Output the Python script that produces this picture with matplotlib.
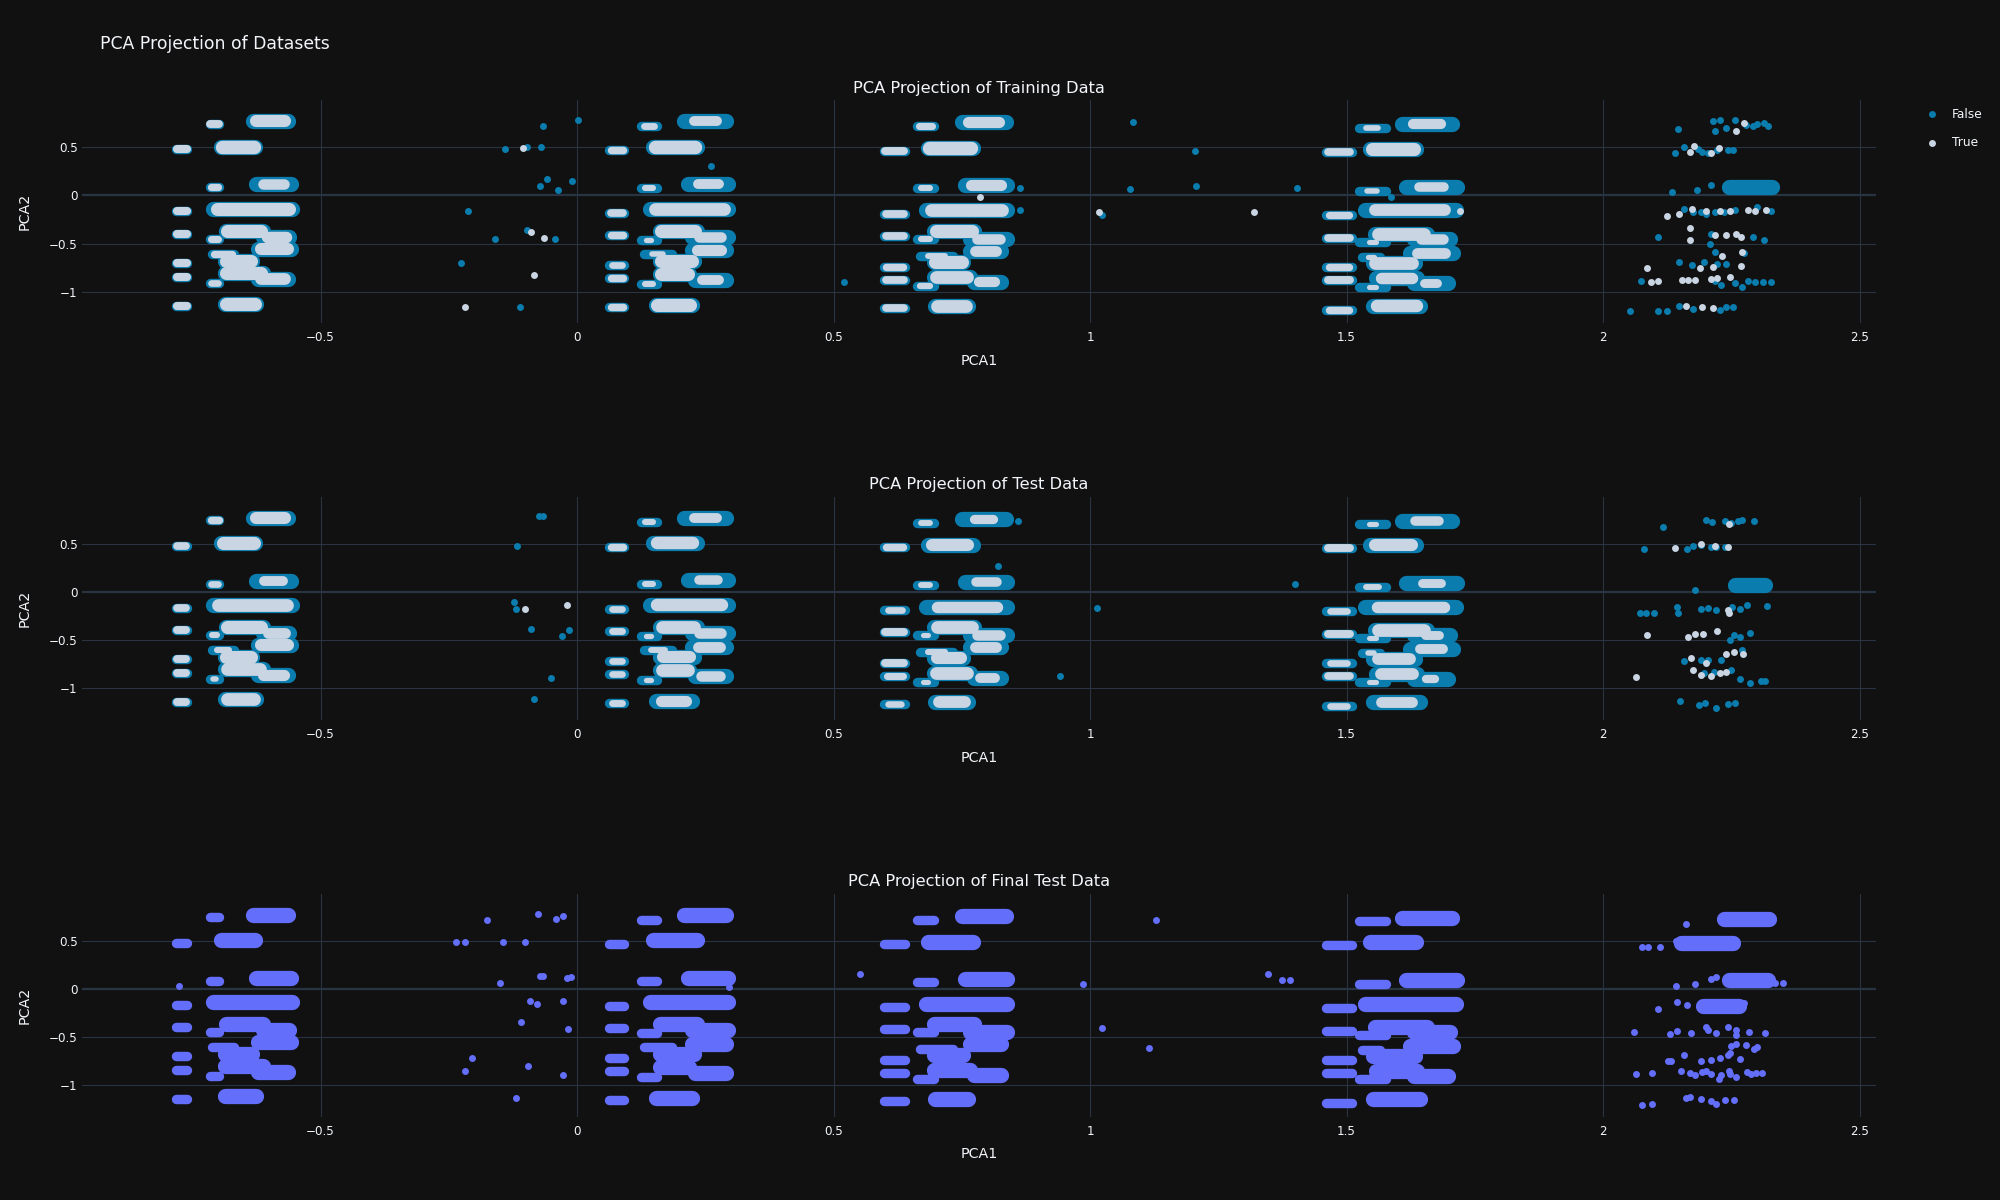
import matplotlib
matplotlib.use("Agg")
import matplotlib.pyplot as plt
from matplotlib.lines import Line2D

# ---------------------------------------------------------------- data
X_TICKS = [-0.5, 0, 0.5, 1, 1.5, 2, 2.5]
X_TICK_LABELS = ["\u22120.5", "0", "0.5", "1", "1.5", "2", "2.5"]
Y_TICKS = [-1, -0.5, 0, 0.5]
Y_TICK_LABELS = ["\u22121", "\u22120.5", "0", "0.5"]
PANEL_TITLES = ["PCA Projection of Training Data", "PCA Projection of Test Data",
                "PCA Projection of Final Test Data"]
LEGEND_LABELS = ["False", "True"]

# dense horizontal clusters (x_start, x_end, y) ; first 11 = narrow side columns
STRIPS_G1 = [(-0.781, -0.760, 0.480), (-0.781, -0.760, -0.163), (-0.781, -0.760, -0.400),
             (-0.781, -0.760, -0.700), (-0.781, -0.760, -0.843), (-0.781, -0.760, -1.145),
             (-0.716, -0.697, 0.742), (-0.716, -0.697, 0.085), (-0.716, -0.697, -0.445),
             (-0.716, -0.697, -0.900), (-0.712, -0.668, -0.600),
             (-0.632, -0.563, 0.768), (-0.694, -0.627, 0.505), (-0.625, -0.558, 0.115),
             (-0.709, -0.555, -0.135), (-0.685, -0.613, -0.362), (-0.612, -0.561, -0.430),
             (-0.622, -0.558, -0.556), (-0.687, -0.633, -0.672), (-0.687, -0.613, -0.805),
             (-0.622, -0.563, -0.865), (-0.687, -0.625, -1.115)]
STRIPS_G2 = [(0.063, 0.092, 0.470), (0.063, 0.092, -0.176), (0.063, 0.092, -0.405),
             (0.063, 0.092, -0.716), (0.063, 0.092, -0.850), (0.063, 0.092, -1.156),
             (0.125, 0.155, 0.720), (0.125, 0.155, 0.080), (0.125, 0.155, -0.456),
             (0.125, 0.155, -0.910), (0.130, 0.185, -0.600),
             (0.209, 0.291, 0.765), (0.149, 0.233, 0.505), (0.217, 0.295, 0.118),
             (0.143, 0.295, -0.135), (0.161, 0.233, -0.367), (0.224, 0.295, -0.430),
             (0.224, 0.291, -0.567), (0.161, 0.227, -0.680), (0.161, 0.219, -0.810),
             (0.230, 0.291, -0.870), (0.153, 0.224, -1.128)]
STRIPS_G3 = [(0.598, 0.640, 0.463), (0.598, 0.640, -0.187), (0.598, 0.640, -0.415),
             (0.598, 0.640, -0.740), (0.598, 0.640, -0.872), (0.598, 0.640, -1.166),
             (0.662, 0.696, 0.713), (0.662, 0.696, 0.073), (0.662, 0.696, -0.446),
             (0.662, 0.696, -0.930), (0.668, 0.733, -0.620),
             (0.750, 0.836, 0.754), (0.684, 0.771, 0.488), (0.756, 0.839, 0.104),
             (0.681, 0.839, -0.152), (0.696, 0.774, -0.367), (0.766, 0.839, -0.446),
             (0.766, 0.827, -0.574), (0.696, 0.753, -0.690), (0.696, 0.765, -0.837),
             (0.773, 0.827, -0.896), (0.698, 0.763, -1.140)]
STRIPS_G4 = [(1.460, 1.510, 0.453), (1.460, 1.510, -0.197), (1.460, 1.510, -0.436),
             (1.460, 1.510, -0.734), (1.460, 1.510, -0.872), (1.460, 1.510, -1.180),
             (1.524, 1.576, 0.700), (1.524, 1.576, 0.048), (1.524, 1.576, -0.480),
             (1.524, 1.576, -0.940), (1.530, 1.565, -0.630),
             (1.609, 1.705, 0.740), (1.546, 1.636, 0.484), (1.615, 1.716, 0.090),
             (1.535, 1.713, -0.152), (1.555, 1.657, -0.394), (1.631, 1.701, -0.446),
             (1.623, 1.707, -0.590), (1.551, 1.633, -0.695), (1.557, 1.638, -0.850),
             (1.631, 1.697, -0.907), (1.551, 1.644, -1.145)]

TRAIN_SHARE_G1 = [0.85, 0.85, 0.85, 0.85, 0.85, 0.85, 0.8, 0.65, 0.6, 0.5, 0.65,
                  0.7, 0.9, 0.45, 0.85, 0.85, 0.6, 0.7, 0.85, 0.85, 0.65, 0.85]
TRAIN_SHARE_G2 = [0.7, 0.75, 0.7, 0.5, 0.7, 0.7, 0.55, 0.35, 0.15, 0.35, 0.2,
                  0.35, 0.9, 0.35, 0.8, 0.85, 0.45, 0.55, 0.85, 0.85, 0.35, 0.85]
TRAIN_SHARE_G3 = [0.8, 0.75, 0.75, 0.7, 0.75, 0.75, 0.6, 0.35, 0.35, 0.4, 0.3,
                  0.55, 0.9, 0.55, 0.8, 0.85, 0.45, 0.5, 0.85, 0.8, 0.4, 0.8]
TRAIN_SHARE_G4 = [0.75, 0.65, 0.75, 0.7, 0.8, 0.7, 0.25, 0.2, 0.1, 0.1, 0.15,
                  0.4, 0.85, 0.3, 0.65, 0.8, 0.45, 0.5, 0.8, 0.6, 0.2, 0.75]
TEST_SHARE_G1 = [0.75, 0.75, 0.8, 0.8, 0.8, 0.8, 0.7, 0.5, 0.35, 0.2, 0.35,
                 0.7, 0.85, 0.35, 0.8, 0.85, 0.5, 0.7, 0.85, 0.8, 0.55, 0.8]
TEST_SHARE_G2 = [0.7, 0.5, 0.55, 0.5, 0.5, 0.55, 0.35, 0.35, 0.15, 0.15, 0.3,
                 0.35, 0.75, 0.3, 0.75, 0.8, 0.45, 0.5, 0.7, 0.8, 0.45, 0.55]
TEST_SHARE_G3 = [0.7, 0.5, 0.8, 0.8, 0.6, 0.45, 0.3, 0.3, 0.1, 0.1, 0.35,
                 0.25, 0.7, 0.3, 0.6, 0.8, 0.45, 0.5, 0.7, 0.8, 0.35, 0.65]
TEST_SHARE_G4 = [0.8, 0.5, 0.8, 0.5, 0.75, 0.5, 0.1, 0.3, 0.1, 0.1, 0.2,
                 0.3, 0.7, 0.2, 0.6, 0.8, 0.2, 0.35, 0.65, 0.65, 0.1, 0.5]

TRAIN_G5_STRIPS = [(2.245, 2.330, 0.085)]
TEST_G5_STRIPS = [(2.258, 2.315, 0.070)]
FINAL_G5_STRIPS = [(2.235, 2.324, 0.730), (2.152, 2.253, 0.478),
                   (2.246, 2.322, 0.090), (2.195, 2.264, -0.180)]

# isolated points
TRAIN_FALSE_X = [-0.066, 0.002, -0.14, -0.098, -0.07, -0.059, -0.073, -0.038, -0.009, -0.212,
                 -0.16, -0.097, -0.043, -0.227, -0.112, 0.262, 1.084, 1.204, 1.077, 1.206,
                 1.403, 0.863, 0.863, 0.52, 1.023, 1.587,
                 2.147, 2.214, 2.227, 2.218, 2.24, 2.257, 2.279, 2.314, 2.322, 2.292, 2.30,
                 2.14, 2.157, 2.192, 2.205, 2.222, 2.244, 2.253, 2.185,
                 2.135, 2.183, 2.211,
                 2.157, 2.175, 2.19, 2.218, 2.236, 2.257, 2.30, 2.327, 2.20,
                 2.107, 2.21, 2.292, 2.314, 2.208,
                 2.218, 2.275, 2.148, 2.174, 2.196, 2.222, 2.24,
                 2.074, 2.218, 2.257, 2.27, 2.283, 2.296, 2.312, 2.327, 2.23,
                 2.053, 2.107, 2.124, 2.148, 2.176, 2.227, 2.24, 2.253]
TRAIN_FALSE_Y = [0.72, 0.774, 0.48, 0.505, 0.505, 0.17, 0.093, 0.058, 0.145, -0.165,
                 -0.45, -0.354, -0.447, -0.70, -1.15, 0.30, 0.758, 0.457, 0.062, 0.10,
                 0.073, 0.08, -0.145, -0.896, -0.204, -0.014,
                 0.685, 0.765, 0.775, 0.67, 0.695, 0.78, 0.73, 0.747, 0.72, 0.72, 0.735,
                 0.436, 0.498, 0.453, 0.44, 0.464, 0.47, 0.47, 0.475,
                 0.035, 0.055, 0.104,
                 -0.135, -0.17, -0.175, -0.175, -0.175, -0.15, -0.118, -0.16, -0.195,
                 -0.43, -0.40, -0.43, -0.464, -0.50,
                 -0.585, -0.59, -0.69, -0.72, -0.69, -0.705, -0.706,
                 -0.886, -0.88, -0.90, -0.948, -0.88, -0.895, -0.895, -0.89, -0.92,
                 -1.197, -1.19, -1.195, -1.138, -1.173, -1.183, -1.156, -1.156]
TRAIN_TRUE_X = [-0.106, -0.09, -0.065, -0.083, -0.219, 0.786, 1.018, 1.32, 0.833, 1.722,
                2.275, 2.26, 2.17, 2.178, 2.21, 2.226,
                2.124, 2.148, 2.173, 2.20, 2.227, 2.248, 2.283, 2.296, 2.318,
                2.17, 2.17, 2.218, 2.24, 2.26, 2.268,
                2.231, 2.27, 2.189, 2.214, 2.268, 2.086,
                2.094, 2.107, 2.154, 2.165, 2.179, 2.21, 2.222, 2.247,
                2.161, 2.192, 2.214]
TRAIN_TRUE_Y = [0.49, -0.38, -0.444, -0.82, -1.15, -0.02, -0.173, -0.17, -0.163, -0.16,
                0.747, 0.67, 0.453, 0.512, 0.436, 0.488,
                -0.207, -0.187, -0.142, -0.163, -0.165, -0.16, -0.152, -0.165, -0.15,
                -0.332, -0.464, -0.41, -0.41, -0.394, -0.43,
                -0.62, -0.585, -0.747, -0.74, -0.733, -0.747,
                -0.896, -0.879, -0.868, -0.875, -0.875, -0.862, -0.855, -0.844,
                -1.138, -1.156, -1.163]

TEST_FALSE_X = [-0.066, -0.075, -0.117, -0.123, -0.119, -0.09, -0.016, -0.029, -0.05, -0.083,
                0.82, 0.942, 0.86, 1.013, 1.399,
                2.116, 2.213, 2.201, 2.238, 2.25, 2.263, 2.27, 2.295,
                2.08, 2.164, 2.175, 2.19, 2.21, 2.221, 2.238,
                2.179,
                2.072, 2.083, 2.099, 2.144, 2.146, 2.19, 2.204, 2.221, 2.252, 2.267, 2.28, 2.32,
                2.255, 2.267, 2.247, 2.287,
                2.27, 2.229, 2.158, 2.19, 2.204,
                2.196, 2.216, 2.25, 2.267, 2.287, 2.307, 2.316,
                2.149, 2.187, 2.198, 2.221, 2.244, 2.258]
TEST_FALSE_Y = [0.785, 0.785, 0.477, -0.104, -0.173, -0.38, -0.398, -0.46, -0.889, -1.114,
                0.273, -0.875, 0.737, -0.163, 0.08,
                0.675, 0.727, 0.745, 0.737, 0.71, 0.737, 0.75, 0.73,
                0.44, 0.446, 0.48, 0.49, 0.465, 0.47, 0.465,
                0.017,
                -0.224, -0.224, -0.224, -0.155, -0.215, -0.173, -0.165, -0.19, -0.155, -0.173, -0.138, -0.149,
                -0.45, -0.467, -0.50, -0.426,
                -0.60, -0.708, -0.72, -0.708, -0.705,
                -0.84, -0.83, -0.81, -0.907, -0.95, -0.92, -0.92,
                -1.13, -1.17, -1.15, -1.2, -1.16, -1.15]
TEST_TRUE_X = [-0.102, -0.02,
               2.246, 2.141, 2.19, 2.218, 2.244, 2.246, 2.244, 2.086, 2.166, 2.18, 2.194, 2.223,
               2.272, 2.24, 2.255, 2.172, 2.2, 2.064, 2.175, 2.19, 2.21, 2.227, 2.24]
TEST_TRUE_Y = [-0.176, -0.135,
               0.706, 0.457, 0.5, 0.48, 0.465, -0.215, -0.19, -0.45, -0.467, -0.44, -0.435, -0.405,
               -0.645, -0.645, -0.62, -0.69, -0.74, -0.88, -0.815, -0.86, -0.876, -0.84, -0.833]

FINAL_X = [-0.076, -0.042, -0.027, -0.175, -0.235, -0.219, -0.144, -0.102, -0.073, -0.067,
           -0.15, -0.02, -0.011, -0.092, -0.078, -0.027, -0.11, -0.017, -0.204, -0.219,
           -0.095, -0.027, -0.119, 0.551, -0.776, 0.297,
           0.986, 1.129, 1.024, 1.115, 1.346, 1.375, 1.39,
           2.162, 2.075, 2.088, 2.111, 2.143, 2.16, 2.335, 2.35, 2.21, 2.22, 2.18, 2.143,
           2.144, 2.107, 2.164, 2.275,
           2.061, 2.13, 2.144, 2.172, 2.20, 2.205, 2.221, 2.244, 2.26, 2.26, 2.284, 2.316,
           2.25, 2.26, 2.278, 2.295, 2.30, 2.244, 2.266, 2.158, 2.126, 2.133, 2.19, 2.21, 2.227, 2.248,
           2.064, 2.095, 2.152, 2.17, 2.18, 2.192, 2.2, 2.21, 2.23, 2.247, 2.26, 2.28, 2.288,
           2.298, 2.31, 2.225, 2.245,
           2.075, 2.095, 2.162, 2.17, 2.19, 2.21, 2.221, 2.238, 2.255]
FINAL_Y = [0.78, 0.73, 0.758, 0.713, 0.484, 0.484, 0.484, 0.484, 0.13, 0.135,
           0.066, 0.11, 0.125, -0.125, -0.16, -0.125, -0.343, -0.42, -0.713, -0.855,
           -0.80, -0.896, -1.13, 0.152, 0.028, 0.02,
           0.048, 0.713, -0.408, -0.616, 0.152, 0.09, 0.09,
           0.678, 0.43, 0.43, 0.44, 0.50, 0.45, 0.06, 0.06, 0.107, 0.12, 0.05, 0.028,
           -0.135, -0.21, -0.17, -0.145,
           -0.446, -0.47, -0.44, -0.46, -0.40, -0.43, -0.46, -0.40, -0.425, -0.48, -0.446, -0.46,
           -0.59, -0.57, -0.58, -0.62, -0.60, -0.69, -0.73, -0.69, -0.75, -0.75, -0.75, -0.74, -0.716, -0.67,
           -0.88, -0.87, -0.855, -0.87, -0.89, -0.86, -0.855, -0.88, -0.895, -0.88, -0.91, -0.86, -0.88,
           -0.875, -0.87, -0.93, -0.85,
           -1.2, -1.19, -1.13, -1.125, -1.14, -1.16, -1.19, -1.15, -1.15]

# ---------------------------------------------------------------- style
BG = "#111111"
GRID = "#283442"
TEXT = "#f2f5fa"
C_FALSE = "#0a7cad"
C_TRUE = "#c9d5e2"
C_FINAL = "#636efa"
LW_SIDE = 6.8
LW_MAIN = 11.0
MS = 5.0
W, H = 2000, 1200

plt.rcParams["font.family"] = ["DejaVu Sans"]
fig = plt.figure(figsize=(20, 12), dpi=100, facecolor=BG)

AX_LEFT, AX_RIGHT = 82, 1876
PANEL_TOPS = [100, 497, 893.5]
AX_H = 223
YLIMS = [(-1.316, 0.985), (-1.329, 0.984), (-1.324, 0.990)]
XLIM = (-0.965, 2.532)


def px_to_fig(x, y):
    return x / W, 1 - y / H


def make_axes(i):
    top = PANEL_TOPS[i]
    ax = fig.add_axes([AX_LEFT / W, 1 - (top + AX_H) / H, (AX_RIGHT - AX_LEFT) / W, AX_H / H])
    ax.set_facecolor(BG)
    ax.set_xlim(XLIM)
    ax.set_ylim(YLIMS[i])
    ax.set_xticks(X_TICKS)
    ax.set_xticklabels(X_TICK_LABELS)
    ax.set_yticks(Y_TICKS)
    ax.set_yticklabels(Y_TICK_LABELS)
    for s in ax.spines.values():
        s.set_visible(False)
    ax.tick_params(length=0, colors=TEXT, labelsize=8.6)
    ax.tick_params(axis="x", pad=6)
    ax.tick_params(axis="y", pad=3)
    for xv in X_TICKS:
        ax.axvline(xv, color=GRID, lw=0.8, zorder=0)
    for yv in Y_TICKS:
        ax.axhline(yv, color=GRID, lw=1.6 if yv == 0 else 0.8, zorder=0)
    fx, fy = px_to_fig((AX_LEFT + AX_RIGHT) / 2, top - 12)
    fig.text(fx, fy, PANEL_TITLES[i], color=TEXT, fontsize=11.7, ha="center", va="center")
    fx, fy = px_to_fig((AX_LEFT + AX_RIGHT) / 2, top + AX_H + 38)
    fig.text(fx, fy, "PCA1", color=TEXT, fontsize=10.3, ha="center", va="center")
    fx, fy = px_to_fig(25, top + AX_H / 2)
    fig.text(fx, fy, "PCA2", color=TEXT, fontsize=10.3, ha="center", va="center", rotation=90)
    return ax


def draw_strips(ax, strips, color, zorder, shares=None):
    for i, (x0, x1, y) in enumerate(strips):
        lw = LW_SIDE if (i < 11 and len(strips) == 22) else LW_MAIN
        if shares is None:
            ax.plot([x0, x1], [y, y], color=color, lw=lw, solid_capstyle="round", zorder=zorder)
        else:
            s = shares[i]
            c = (x0 + x1) / 2
            h = (x1 - x0) / 2 * s ** 0.6
            ax.plot([c - h, c + h], [y, y], color=color, lw=lw * (0.5 + 0.42 * s),
                    solid_capstyle="round", zorder=zorder)


def draw_points(ax, xs, ys, color, zorder):
    ax.plot(xs, ys, ls="none", marker="o", ms=MS, mfc=color, mec="none", zorder=zorder)


GROUPS = [STRIPS_G1, STRIPS_G2, STRIPS_G3, STRIPS_G4]
TRAIN_SHARES = [TRAIN_SHARE_G1, TRAIN_SHARE_G2, TRAIN_SHARE_G3, TRAIN_SHARE_G4]
TEST_SHARES = [TEST_SHARE_G1, TEST_SHARE_G2, TEST_SHARE_G3, TEST_SHARE_G4]

for i, (shares, g5, fx_, fy_, tx_, ty_) in enumerate([
        (TRAIN_SHARES, TRAIN_G5_STRIPS, TRAIN_FALSE_X, TRAIN_FALSE_Y, TRAIN_TRUE_X, TRAIN_TRUE_Y),
        (TEST_SHARES, TEST_G5_STRIPS, TEST_FALSE_X, TEST_FALSE_Y, TEST_TRUE_X, TEST_TRUE_Y)]):
    ax = make_axes(i)
    for strips in GROUPS:
        draw_strips(ax, strips, C_FALSE, 2)
    draw_strips(ax, g5, C_FALSE, 2)
    draw_points(ax, fx_, fy_, C_FALSE, 2)
    for strips, sh in zip(GROUPS, shares):
        draw_strips(ax, strips, C_TRUE, 3, shares=sh)
    draw_points(ax, tx_, ty_, C_TRUE, 3)

ax = make_axes(2)
for strips in GROUPS:
    draw_strips(ax, strips, C_FINAL, 2)
draw_strips(ax, FINAL_G5_STRIPS, C_FINAL, 2)
draw_points(ax, FINAL_X, FINAL_Y, C_FINAL, 2)

fx, fy = px_to_fig(100, 44)
fig.text(fx, fy, "PCA Projection of Datasets", color=TEXT, fontsize=12.4, ha="left", va="center")

for lab, col, ypx in zip(LEGEND_LABELS, [C_FALSE, C_TRUE], [114, 143]):
    mx, my = px_to_fig(1932, ypx)
    fig.add_artist(Line2D([mx], [my], ls="none", marker="o", ms=MS, mfc=col, mec="none",
                          transform=fig.transFigure))
    tx, ty = px_to_fig(1952, ypx)
    fig.text(tx, ty, lab, color=TEXT, fontsize=8.8, ha="left", va="center")

fig.savefig("out.png", dpi=100, facecolor=BG)
